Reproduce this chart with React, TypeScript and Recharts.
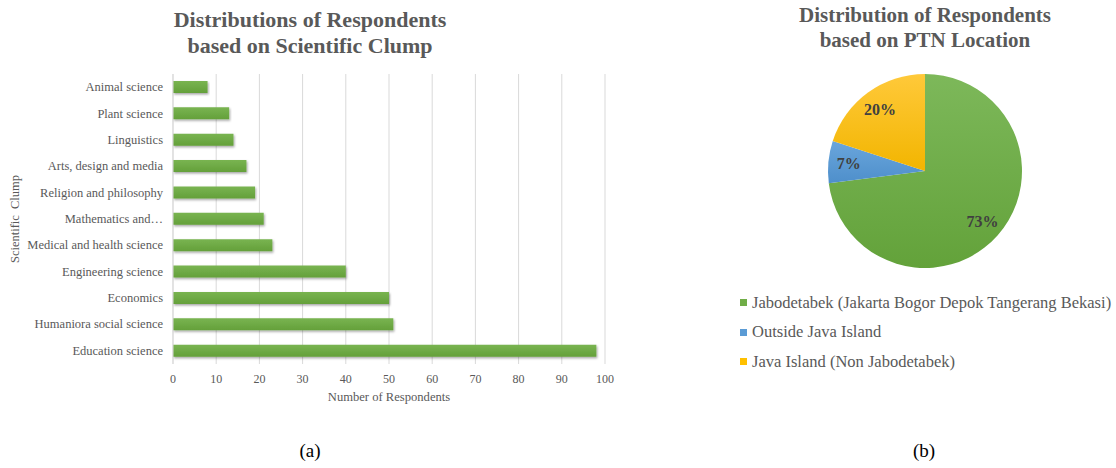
import React from 'react';
import {
  Bar,
  BarChart,
  CartesianGrid,
  Cell,
  Pie,
  PieChart,
  XAxis,
  YAxis,
} from 'recharts';

// ─── Data ────────────────────────────────────────────────────────────

const CLUMPS = [
  'Animal science',
  'Plant science',
  'Linguistics',
  'Arts, design and media',
  'Religion and philosophy',
  'Mathematics and…',
  'Medical and health science',
  'Engineering science',
  'Economics',
  'Humaniora social science',
  'Education science',
];
const RESPONDENTS = [8, 13, 14, 17, 19, 21, 23, 40, 50, 51, 98];
const X_TICKS = [0, 10, 20, 30, 40, 50, 60, 70, 80, 90, 100];

const LOCATIONS = [
  'Jabodetabek (Jakarta Bogor Depok Tangerang Bekasi)',
  'Outside Java Island',
  'Java Island (Non Jabodetabek)',
];
const LOCATION_SHARE = [73, 7, 20];
const LOCATION_COLORS = ['#70AD47', '#5B9BD5', '#FFC000'];

const barData = CLUMPS.map((name, i) => ({ name, value: RESPONDENTS[i] }));
const pieData = LOCATIONS.map((name, i) => ({ name, value: LOCATION_SHARE[i] }));

// ─── Styles ──────────────────────────────────────────────────────────

const SERIF = "'Liberation Serif', 'Times New Roman', serif";
const GREY = '#595959';

const titleStyle: React.CSSProperties = {
  position: 'absolute',
  fontFamily: SERIF,
  fontWeight: 'bold',
  color: GREY,
  textAlign: 'center',
  whiteSpace: 'nowrap',
};

const captionStyle: React.CSSProperties = {
  position: 'absolute',
  top: 440,
  fontFamily: SERIF,
  fontSize: 19,
  color: '#000',
  width: 60,
  textAlign: 'center',
};

// ─── Ticks & labels ──────────────────────────────────────────────────

const CategoryTick = (props: any) => {
  const { x, y, payload } = props;
  return (
    <text
      x={x}
      y={y}
      textAnchor="end"
      dominantBaseline="central"
      style={{ fontFamily: SERIF, fontSize: 12.5, fill: GREY }}
    >
      {payload.value}
    </text>
  );
};

const ValueTick = (props: any) => {
  const { x, y, payload } = props;
  return (
    <text
      x={x}
      y={y + 6}
      textAnchor="middle"
      dominantBaseline="central"
      style={{ fontFamily: SERIF, fontSize: 12, fill: GREY }}
    >
      {payload.value}
    </text>
  );
};

const RAD = Math.PI / 180;

const renderPieLabel = (props: any) => {
  const { cx, cy, midAngle, outerRadius, value } = props;
  const r = outerRadius * 0.79;
  const x = cx + r * Math.cos(-midAngle * RAD);
  const y = cy + r * Math.sin(-midAngle * RAD);
  return (
    <text
      x={x}
      y={y}
      textAnchor="middle"
      dominantBaseline="central"
      style={{ fontFamily: SERIF, fontWeight: 'bold', fontSize: 16, fill: '#404040' }}
    >
      {`${value}%`}
    </text>
  );
};

// ─── Component ───────────────────────────────────────────────────────

export default function App() {
  return (
    <div
      style={{
        position: 'absolute',
        left: 0,
        top: 0,
        width: 1116,
        height: 468,
        background: '#fff',
        overflow: 'hidden',
      }}
    >
      <div style={{ ...titleStyle, left: 160, top: 7, width: 300, fontSize: 22, lineHeight: '26px' }}>
        Distributions of Respondents
        <br />
        based on Scientific Clump
      </div>

      <div style={{ position: 'absolute', left: 0, top: 0 }}>
        <BarChart
          width={620}
          height={420}
          layout="vertical"
          data={barData}
          margin={{ top: 74, right: 15, bottom: 26, left: 8 }}
          barCategoryGap={0}
        >
          <defs>
            <linearGradient id="barFill" x1="0" y1="0" x2="0" y2="1">
              <stop offset="0%" stopColor="#79B451" />
              <stop offset="100%" stopColor="#64A03A" />
            </linearGradient>
            <filter id="barShadow" x="-5%" y="-30%" width="110%" height="180%">
              <feDropShadow dx="1" dy="1.5" stdDeviation="1" floodColor="#000" floodOpacity="0.35" />
            </filter>
          </defs>
          <CartesianGrid horizontal={false} stroke="#D9D9D9" />
          <XAxis
            type="number"
            domain={[0, 100]}
            ticks={X_TICKS}
            interval={0}
            axisLine={false}
            tickLine={false}
            tickMargin={3}
            height={30}
            tick={<ValueTick />}
            label={(p: any) => {
              const vb = p.viewBox;
              return (
                <text
                  x={vb.x + vb.width / 2}
                  y={vb.y + 33}
                  textAnchor="middle"
                  dominantBaseline="central"
                  style={{ fontFamily: SERIF, fontSize: 12.6, fill: GREY }}
                >
                  Number of Respondents
                </text>
              );
            }}
          />
          <YAxis
            type="category"
            dataKey="name"
            width={165}
            interval={0}
            axisLine={{ stroke: '#D9D9D9' }}
            tickLine={false}
            tickMargin={4}
            tick={<CategoryTick />}
            label={(p: any) => {
              const vb = p.viewBox;
              const cx = vb.x + 7;
              const cy = vb.y + vb.height / 2;
              return (
                <text
                  x={cx}
                  y={cy}
                  transform={`rotate(-90 ${cx} ${cy})`}
                  textAnchor="middle"
                  dominantBaseline="central"
                  style={{ fontFamily: SERIF, fontSize: 12.5, fill: GREY, wordSpacing: 3 }}
                >
                  Scientific Clump
                </text>
              );
            }}
          />
          <Bar
            dataKey="value"
            barSize={12}
            fill="url(#barFill)"
            filter="url(#barShadow)"
            isAnimationActive={false}
          />
        </BarChart>
      </div>

      <div style={{ ...titleStyle, left: 775, top: 3, width: 300, fontSize: 21, lineHeight: '25px' }}>
        Distribution of Respondents
        <br />
        based on PTN Location
      </div>

      <div style={{ position: 'absolute', left: 620, top: 0 }}>
        <PieChart width={496} height={280}>
          <defs>
            <linearGradient id="pieGreen" x1="0" y1="0" x2="0" y2="1">
              <stop offset="0%" stopColor="#7DB85A" />
              <stop offset="100%" stopColor="#63A23A" />
            </linearGradient>
            <linearGradient id="pieBlue" x1="0" y1="0" x2="0" y2="1">
              <stop offset="0%" stopColor="#6AA6DC" />
              <stop offset="100%" stopColor="#4E8FCB" />
            </linearGradient>
            <linearGradient id="pieYellow" x1="0" y1="0" x2="0" y2="1">
              <stop offset="0%" stopColor="#FFC93A" />
              <stop offset="100%" stopColor="#F2B500" />
            </linearGradient>
          </defs>
          <Pie
            data={pieData}
            dataKey="value"
            nameKey="name"
            cx={300}
            cy={166}
            outerRadius={97}
            startAngle={90}
            endAngle={-270}
            stroke="none"
            label={renderPieLabel}
            labelLine={false}
            isAnimationActive={false}
          >
            {pieData.map((d, i) => (
              <Cell key={d.name} fill={['url(#pieGreen)', 'url(#pieBlue)', 'url(#pieYellow)'][i]} />
            ))}
          </Pie>
        </PieChart>
      </div>

      <div
        style={{
          position: 'absolute',
          left: 740,
          top: 288,
          fontFamily: SERIF,
          fontSize: 16.5,
          color: GREY,
        }}
      >
        {LOCATIONS.map((name, i) => (
          <div
            key={name}
            style={{ display: 'flex', alignItems: 'center', height: 29.5, whiteSpace: 'nowrap' }}
          >
            <span
              style={{
                display: 'inline-block',
                width: 7,
                height: 7,
                background: LOCATION_COLORS[i],
                marginRight: 5,
              }}
            />
            {name}
          </div>
        ))}
      </div>

      <div style={{ ...captionStyle, left: 280 }}>(a)</div>
      <div style={{ ...captionStyle, left: 894 }}>(b)</div>
    </div>
  );
}
